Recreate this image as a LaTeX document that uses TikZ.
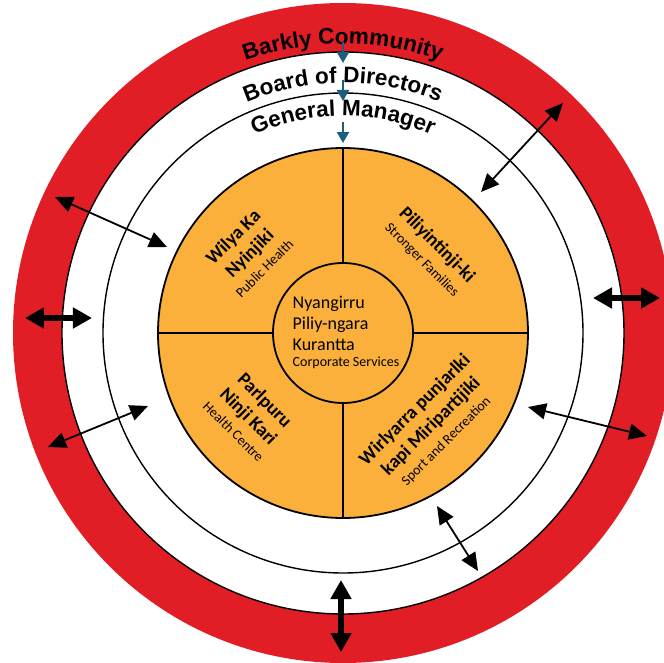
\documentclass[tikz,border=0pt]{standalone}
\usepackage{fontspec}
\newfontfamily\ringfont{Liberation Sans}
\newfontfamily\deptfont{Carlito}
\usetikzlibrary{arrows.meta,decorations.text}

\definecolor{barklyred}{RGB}{225,30,38}
\definecolor{deptorange}{RGB}{251,176,59}
\definecolor{flowblue}{RGB}{27,94,125}

%% radii of the rings
\def\rOut{330}
\def\rRed{281}
\def\rMid{240}
\def\rDept{185}
\def\rCore{70}

\newcommand\subtitle[1]{{\fontsize{14}{14}\selectfont\mdseries #1}}

\tikzset{
     ringline/.style={draw=black, line width=1.4pt},
     deptline/.style={draw=black, line width=1.8pt},
     ringlabel/.style={decorate, decoration={text along path, text align=center,
        text={|\ringfont\bfseries\fontsize{22.5}{22}\selectfont|#1}}},
     flow/.style={-{Triangle[length=11pt,width=12pt]}, draw=flowblue, line width=2.4pt},
     link/.style={{Triangle[length=18pt,width=16pt]}-{Triangle[length=18pt,width=16pt]}, line width=1.8pt},
     biglink/.style={{Triangle[length=19pt,width=20pt]}-{Triangle[length=19pt,width=20pt]}, line width=5.5pt},
     dept/.style={align=center, inner sep=0pt, font=\deptfont\bfseries\fontsize{19}{23}\selectfont},
     core/.style={align=left, inner sep=0pt, font=\deptfont\fontsize{18}{21}\selectfont},
}

\begin{document}
\begin{tikzpicture}[x=1pt, y=1pt]
	\useasboundingbox (-343,-329) rectangle (321,333);
	\clip (-343,-329) rectangle (321,333);

	%% rings
	\fill[barklyred] (0,0) circle (\rOut);
	\filldraw[fill=white, ringline] (0,0) circle (\rRed);
	\draw[ringline] (0,0) circle (\rMid);

	%% departments
	\filldraw[fill=deptorange, deptline] (0,0) circle (\rDept);
	\draw[deptline] (0,\rDept) -- (0,-\rDept);
	\draw[deptline] (-\rDept,0) -- (\rDept,0);
	\filldraw[fill=deptorange, deptline] (0,0) circle (\rCore);

	%% ring names
	\path[ringlabel={Barkly Community}] (180:289) arc[start angle=180, end angle=0, radius=289];
	\path[ringlabel={Board of Directors}] (180:250) arc[start angle=180, end angle=0, radius=250];
	\path[ringlabel={General Manager}] (180:217) arc[start angle=180, end angle=0, radius=217];

	%% top-down flow
	\coordinate (comm) at (0,291);
	\coordinate (board) at (0,270);
	\coordinate (boardtop) at (0,253);
	\coordinate (gm) at (0,232);
	\coordinate (gmtop) at (0,211);
	\coordinate (units) at (0,190);
	\draw[flow] (comm) -- (board);
	\draw[flow] (boardtop) -- (gm);
	\draw[flow] (gmtop) -- (units);

	\node[dept, rotate=45] (health) at (-95,81)
		{Wilya Ka\\Nyinjiki\\[-3pt]\subtitle{Public Health}};
	\node[dept, rotate=-45] (families) at (87,81)
		{Piliyintinji-ki\\[-3pt]\subtitle{Stronger Families}};
	\node[dept, rotate=-45] (clinic) at (-93,-82)
		{Parlpuru\\Ninji Kari\\[-3pt]\subtitle{Health Centre}};
	\node[dept, rotate=45] (sport) at (87,-92)
		{Wirlyarra punjarlki\\kapi Miripartijiki\\[-3pt]\subtitle{Sport and Recreation}};
	\node[core] (corporate) at (3,1)
		{Nyangirru\\Piliy-ngara\\Kurantta\\[-5pt]\subtitle{Corporate Services}};

	%% two-way links across the rings
	\coordinate (w1) at (-288,136);  \coordinate (w1i) at (-176,86);
	\coordinate (w2) at (-318,15);   \coordinate (w2i) at (-251,15);
	\coordinate (w3) at (-295,-114); \coordinate (w3i) at (-195,-73);
	\coordinate (e1) at (220,230);   \coordinate (e1i) at (138,141);
	\coordinate (e2) at (317,35);    \coordinate (e2i) at (250,35);
	\coordinate (e3) at (304,-103);  \coordinate (e3i) at (185,-74);
	\coordinate (s1) at (135,-238);  \coordinate (s1i) at (94,-173);
	\coordinate (s2) at (-2,-319);   \coordinate (s2i) at (-2,-247);

	\draw[link] (w1) -- (w1i);
	\draw[biglink] (w2) -- (w2i);
	\draw[link] (w3) -- (w3i);
	\draw[link] (e1) -- (e1i);
	\draw[biglink] (e2i) -- (e2);
	\draw[link] (e3i) -- (e3);
	\draw[link] (s1i) -- (s1);
	\draw[biglink] (s2i) -- (s2);

\end{tikzpicture}
\end{document}
